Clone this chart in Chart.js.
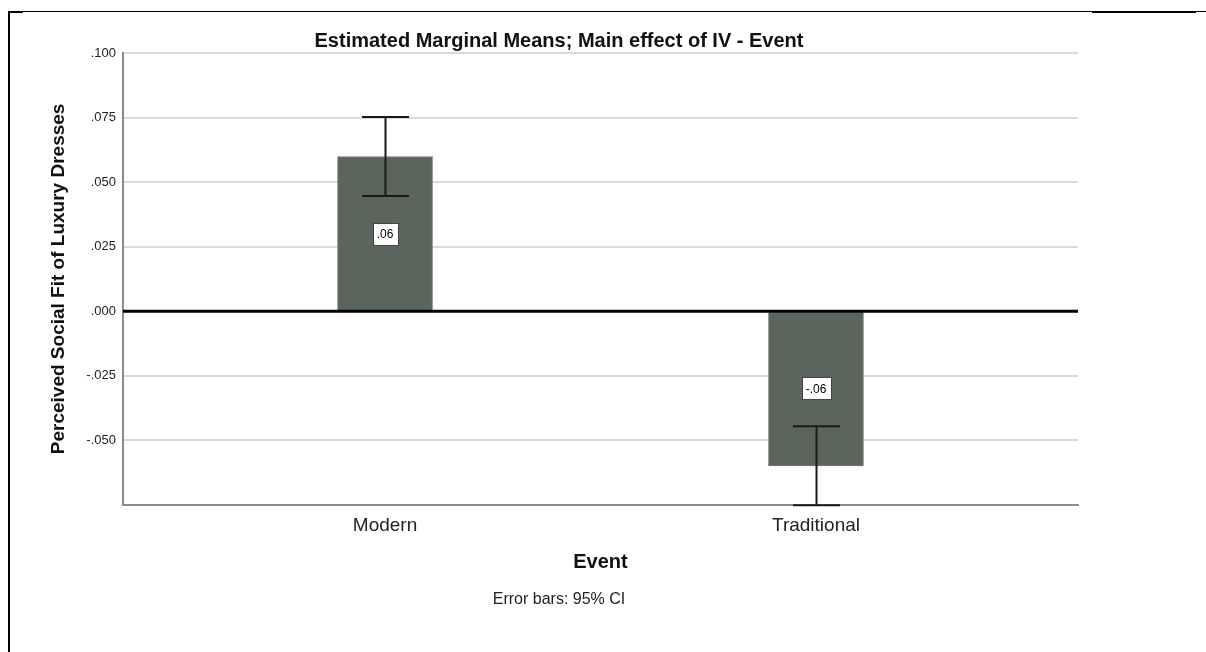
<!DOCTYPE html>
<html>
<head>
<meta charset="utf-8">
<script src="https://cdn.jsdelivr.net/npm/chart.js@4.4.1/dist/chart.umd.min.js"></script>
<style>
    body { margin: 0; background: #fff; }
    #wrap { position: relative; width: 1206px; height: 652px; overflow: hidden; }
    #frame { position: absolute; left: 8px; top: 11px; right: 0; bottom: 0;
             border-left: 2px solid #000; border-top: 1px solid #000; }
    .thick { position: absolute; height: 2px; background: #000; top: 11px; }
    canvas { position: absolute; left: 0; top: 0; }
</style>
</head>
<body>
<div id="wrap">
    <div id="frame"></div>
    <div class="thick" style="left:8px;width:15px;"></div>
    <div class="thick" style="left:1092px;width:104px;"></div>
    <canvas id="emmChart" width="1206" height="652"></canvas>
</div>
<script>
// Données
const categories = ['Modern', 'Traditional'];
const means = [0.0599, -0.0599];
const ciLower = [0.0446, -0.0752];
const ciUpper = [0.0752, -0.0446];
const yTicks = [-0.075, -0.050, -0.025, 0, 0.025, 0.050, 0.075, 0.100];

// Format SPSS : pas de zéro devant le point
function spssFormat(v, digits) {
    return v.toFixed(digits).replace('0.', '.');
}

// Barres d'erreur, ligne du zéro et étiquettes de valeur
const extrasPlugin = {
    id: 'extras',
    afterDatasetsDraw(chart) {
        const ctx = chart.ctx;
        const x = chart.scales.x;
        const y = chart.scales.y;
        const area = chart.chartArea;
        ctx.save();

        // ligne du zéro
        ctx.strokeStyle = '#000';
        ctx.lineWidth = 3;
        ctx.beginPath();
        ctx.moveTo(area.left, y.getPixelForValue(0));
        ctx.lineTo(area.right, y.getPixelForValue(0));
        ctx.stroke();

        // barres d'erreur (IC 95 %)
        ctx.strokeStyle = '#1a1a1a';
        ctx.lineWidth = 2;
        const cap = 23.5;
        categories.forEach((c, i) => {
            const px = Math.round(x.getPixelForValue(i)) + 0.5;
            const yLo = y.getPixelForValue(ciLower[i]);
            const yHi = y.getPixelForValue(ciUpper[i]);
            ctx.beginPath();
            ctx.moveTo(px, yLo);
            ctx.lineTo(px, yHi);
            ctx.moveTo(px - cap, yLo);
            ctx.lineTo(px + cap, yLo);
            ctx.moveTo(px - cap, yHi);
            ctx.lineTo(px + cap, yHi);
            ctx.stroke();
        });

        // étiquettes
        ctx.font = '12px "Liberation Sans", Arial, sans-serif';
        ctx.textAlign = 'center';
        ctx.textBaseline = 'middle';
        categories.forEach((c, i) => {
            const label = spssFormat(means[i], 2);
            const px = x.getPixelForValue(i);
            const py = y.getPixelForValue(means[i] / 2);
            const w = ctx.measureText(label).width + 8;
            const h = 22;
            ctx.fillStyle = '#fff';
            ctx.fillRect(Math.round(px - w / 2) + 0.5, Math.round(py - h / 2) + 0.5, Math.round(w), h);
            ctx.strokeStyle = '#444';
            ctx.lineWidth = 1;
            ctx.strokeRect(Math.round(px - w / 2) + 0.5, Math.round(py - h / 2) + 0.5, Math.round(w), h);
            ctx.fillStyle = '#000';
            ctx.fillText(label, px, py + 1);
        });
        ctx.restore();
    }
};

const near = (a, b) => Math.abs(a - b) < 1e-9;

new Chart(document.getElementById('emmChart').getContext('2d'), {
    type: 'bar',
    data: {
        datasets: [{
            label: 'Perceived Social Fit of Luxury Dresses',
            data: means.map((m, i) => ({ x: i, y: m })),
            backgroundColor: '#5b645d',
            borderColor: '#737a74',
            borderWidth: 1,
            barThickness: 95
        }]
    },
    options: {
        responsive: false,
        animation: false,
        layout: {
            padding: { left: 40, right: 128, top: 20, bottom: 43 }
        },
        plugins: {
            legend: { display: false },
            tooltip: { enabled: false },
            title: {
                display: true,
                text: 'Estimated Marginal Means; Main effect of IV - Event',
                color: '#111',
                font: { family: '"Liberation Sans", Arial, sans-serif', size: 20, weight: 'bold' },
                padding: { top: 9, bottom: 0 }
            },
            subtitle: {
                display: true,
                position: 'bottom',
                text: 'Error bars: 95% CI',
                color: '#222',
                font: { family: '"Liberation Sans", Arial, sans-serif', size: 16 },
                padding: { top: 15, bottom: 0 }
            }
        },
        scales: {
            x: {
                type: 'linear',
                offset: false,
                min: -0.608,
                max: 1.608,
                afterBuildTicks(scale) {
                    scale.ticks = categories.map((c, i) => ({ value: i }));
                },
                afterFit(scale) {
                    scale.height = 70;
                },
                ticks: {
                    autoSkip: false,
                    maxRotation: 0,
                    padding: 10,
                    color: '#222',
                    font: { family: '"Liberation Sans", Arial, sans-serif', size: 19 },
                    callback: (v) => categories[v] ?? ''
                },
                grid: { display: false, drawTicks: false },
                border: { display: true, color: '#8c8c8c', width: 2 },
                title: {
                    display: true,
                    text: 'Event',
                    color: '#111',
                    font: { family: '"Liberation Sans", Arial, sans-serif', size: 20, weight: 'bold' },
                    padding: { top: 0, bottom: 0 }
                }
            },
            y: {
                min: -0.075,
                max: 0.1,
                afterBuildTicks(scale) {
                    scale.ticks = yTicks.map(v => ({ value: v }));
                },
                afterFit(scale) {
                    scale.width = 83;
                },
                ticks: {
                    padding: 7,
                    color: '#222',
                    font: { family: '"Liberation Sans", Arial, sans-serif', size: 13 },
                    callback: (v) => near(v, -0.075) ? '' : spssFormat(v, 3)
                },
                grid: {
                    drawTicks: false,
                    lineWidth: 2,
                    color: (c) => (c.tick && near(c.tick.value, -0.075)) ? 'rgba(0,0,0,0)' : '#d9d9d9'
                },
                border: { display: true, color: '#8c8c8c', width: 2 },
                title: {
                    display: true,
                    text: 'Perceived Social Fit of Luxury Dresses',
                    color: '#111',
                    font: { family: '"Liberation Sans", Arial, sans-serif', size: 19, weight: 'bold' },
                    padding: { top: 7, bottom: 0 }
                }
            }
        }
    },
    plugins: [extrasPlugin]
});
</script>
</body>
</html>
